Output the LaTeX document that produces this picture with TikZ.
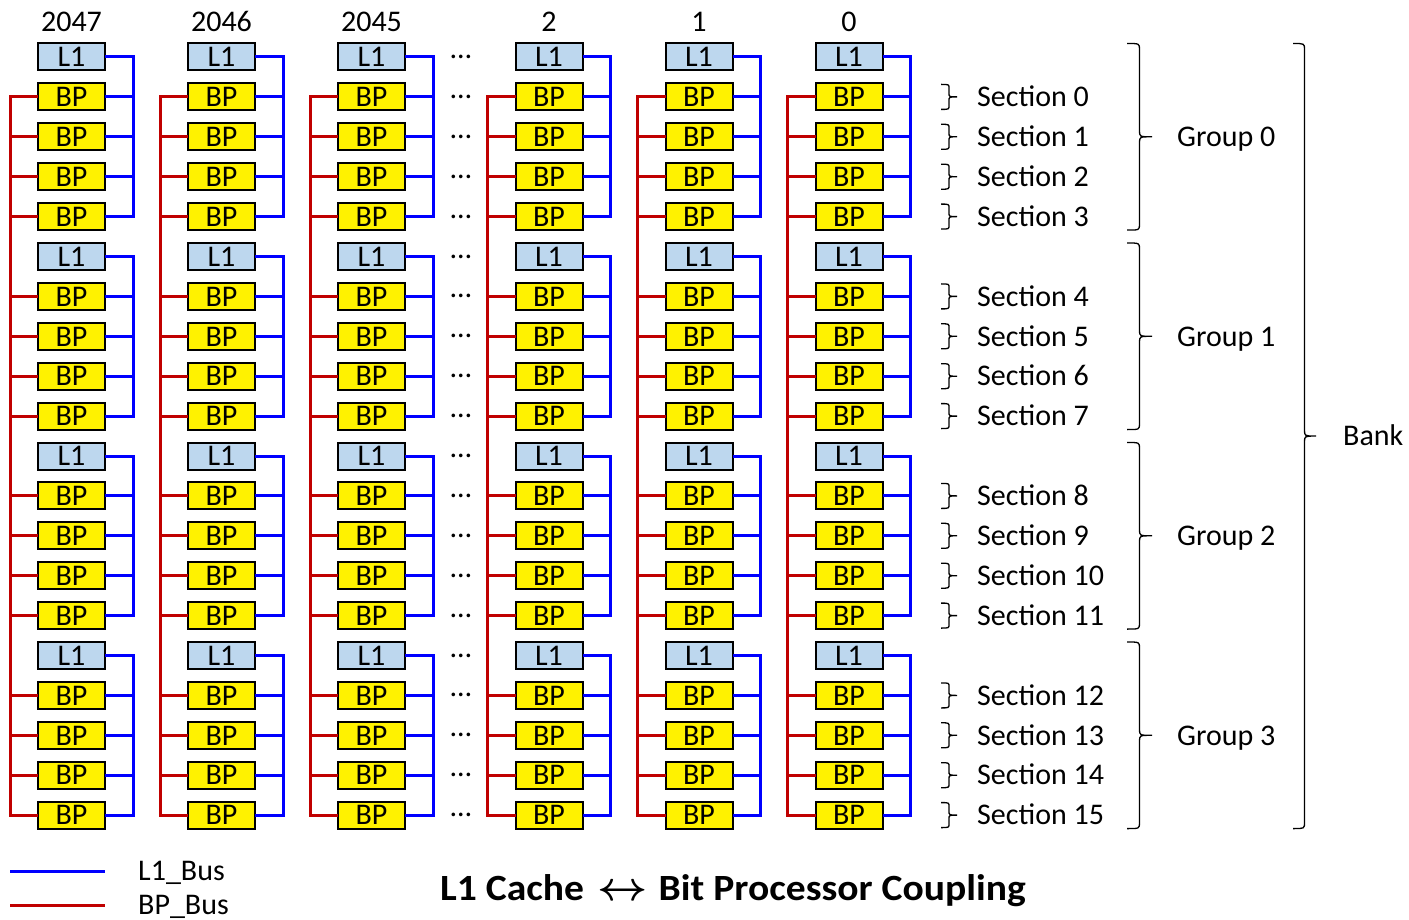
\documentclass[tikz,border=0pt]{standalone}
\usepackage{fontspec}
\setmainfont{Carlito}
\usepackage{graphicx}
\usepackage{tikz}
\usetikzlibrary{positioning,calc}

\definecolor{cachefill}{HTML}{BDD7EE}
\definecolor{busblue}{HTML}{0000FF}
\definecolor{busred}{HTML}{C00000}

\begin{document}
\begin{tikzpicture}[x=1pt, y=-1pt,
  txt/.style={inner sep=0pt, font=\fontsize{30}{34}\selectfont, text height=19.5pt, text depth=0pt},
  l1box/.style={txt, draw, line width=2pt, fill=cachefill, minimum width=67pt, minimum height=27pt, outer sep=0pt},
  bpbox/.style={l1box, fill=yellow},
  dotlbl/.style={inner sep=0pt, font=\fontsize{30}{34}\selectfont},
  lbus/.style={busblue, line width=3pt},
  bbus/.style={busred, line width=3pt},
  % right brace: #1 = depth, #2 = curl
  rbrace/.style 2 args={line width=1.3pt, to path={
    (\tikztostart) .. controls ($(\tikztostart)+(#1/2,0)$) .. ($(\tikztostart)+(#1/2,#2)$)
    -- ($(\tikztostart)!0.5!(\tikztotarget)+(#1/2,-#2)$)
    .. controls ($(\tikztostart)!0.5!(\tikztotarget)+(#1/2,0)$) .. ($(\tikztostart)!0.5!(\tikztotarget)+(#1,0)$)
    .. controls ($(\tikztostart)!0.5!(\tikztotarget)+(#1/2,0)$) .. ($(\tikztostart)!0.5!(\tikztotarget)+(#1/2,#2)$)
    -- ($(\tikztotarget)+(#1/2,-#2)$)
    .. controls ($(\tikztotarget)+(#1/2,0)$) .. (\tikztotarget)}}
]
\useasboundingbox (0,0) rectangle (1409,920);

% columns of L1 / BP boxes
\foreach \cx/\cl [count=\c] in {71.5/2047, 221.5/2046, 371.5/2045, 549/2, 699/1, 849/0} {
  \node[txt] (head\c) at (\cx,22) {\cl};
  \foreach \r in {0,...,19} {
    \pgfmathtruncatemacro\rk{mod(\r,5)}
    \ifnum\rk=0
      \node[l1box] (b\c-\r) at (\cx,57+39.9*\r) {L1};
    \else
      \node[bpbox] (b\c-\r) at (\cx,57+39.9*\r) {BP};
    \fi
  }
  % L1 bus, one per group
  \foreach \g in {0,...,3} {
    \pgfmathtruncatemacro\gtop{5*\g}
    \pgfmathtruncatemacro\gbot{5*\g+4}
    \draw[lbus] (b\c-\gtop.east) -- ++(28,0) coordinate (lv\c-\g) |- (b\c-\gbot.east);
    \foreach \k in {1,2,3} {
      \pgfmathtruncatemacro\rr{5*\g+\k}
      \draw[lbus] (b\c-\rr.east) -- (b\c-\rr.east -| lv\c-\g);
    }
  }
  % BP bus
  \draw[bbus] (b\c-1.west) -- ++(-28,0) coordinate (rv\c) |- (b\c-19.west);
  \foreach \r in {2,...,18} {
    \pgfmathtruncatemacro\rk{mod(\r,5)}
    \ifnum\rk>0 \draw[bbus] (b\c-\r.west) -- (b\c-\r.west -| rv\c); \fi
  }
}

% gap between 2045 and 2
\foreach \r in {0,...,19}
  \node[dotlbl] (gap-\r) at (461,57+39.9*\r) {\ldots};

% sections
\foreach \g in {0,...,3} {
  \foreach \k in {1,...,4} {
    \pgfmathtruncatemacro\rr{5*\g+\k}
    \pgfmathtruncatemacro\sn{4*\g+\k-1}
    \node[txt, anchor=west] (sec\sn) at (b6-\rr.center -| 977,0) {Section \sn};
    \draw[rbrace={16}{4}] ($(sec\sn.west)+(-36,-12.5)$) to ($(sec\sn.west)+(-36,12.5)$);
  }
}

% groups
\foreach \g in {0,...,3} {
  \pgfmathtruncatemacro\gtop{5*\g}
  \pgfmathtruncatemacro\gmid{5*\g+2}
  \pgfmathtruncatemacro\gbot{5*\g+4}
  \node[txt, anchor=west] (grp\g) at (b6-\gmid.center -| 1177,0) {Group \g};
  \draw[rbrace={25}{6}] ($(grp\g.west |- b6-\gtop.north)+(-50,0)$) to ($(grp\g.west |- b6-\gbot.south)+(-50,0)$);
}

% bank
\coordinate (bankmid) at ($(b6-0.north)!0.5!(b6-19.south)$);
\node[txt, anchor=west] (bank) at (bankmid -| 1343,0) {Bank};
\draw[rbrace={23}{6}] ($(bank.west |- b6-0.north)+(-50,0)$) to ($(bank.west |- b6-19.south)+(-50,0)$);

% legend
\node[txt, anchor=west] (lgl1) at (138,871) {L1\_Bus};
\node[txt, anchor=west] (lgbp) at (138,905) {BP\_Bus};
\coordinate (lgl1s) at (10,871);
\coordinate (lgbps) at (10,905);
\draw[lbus] (lgl1s) -- ($(lgl1.west)+(-33,0)$);
\draw[bbus] (lgbps) -- ($(lgbp.west)+(-33,0)$);

% title
\node[inner sep=0pt, font=\fontsize{37}{40}\selectfont\bfseries, text height=23.5pt, text depth=0pt] (title) at (733,889)
  {\scalebox{1.07}[1]{L1 Cache\hspace{4pt} \resizebox{47pt}{!}{\boldmath$\leftrightarrow$}\hspace{2pt} Bit Processor Coupling}};

\end{tikzpicture}
\end{document}
